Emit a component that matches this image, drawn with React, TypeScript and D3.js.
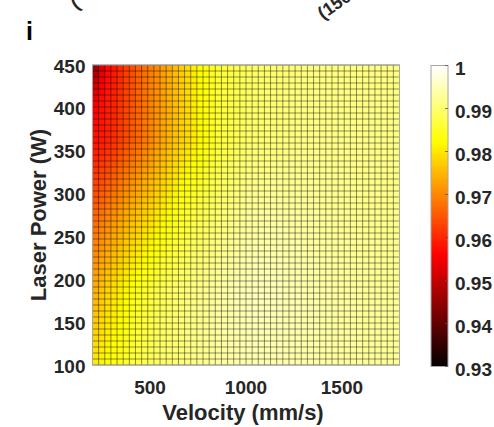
import React from 'react';
import * as d3 from 'd3';

// velocity (mm/s) at the left edge of each cell column
const VELOCITY = [
  200, 232, 264, 296, 328, 360, 392, 424, 456, 488, 520, 552, 584, 616, 648, 680, 712,
  744, 776, 808, 840, 872, 904, 936, 968, 1000, 1032, 1064, 1096, 1128, 1160, 1192, 1224,
  1256, 1288, 1320, 1352, 1384, 1416, 1448, 1480, 1512, 1544, 1576, 1608, 1640, 1672,
  1704, 1736, 1768,
];
// laser power (W) at the bottom edge of each cell row
const POWER = [
  100, 107, 114, 121, 128, 135, 142, 149, 156, 163, 170, 177, 184, 191, 198, 205, 212,
  219, 226, 233, 240, 247, 254, 261, 268, 275, 282, 289, 296, 303, 310, 317, 324, 331,
  338, 345, 352, 359, 366, 373, 380, 387, 394, 401, 408, 415, 422, 429, 436, 443,
];
const X_DOMAIN = [200, 1800];
const Y_DOMAIN = [100, 450];
const X_TICKS = [500, 1000, 1500];
const Y_TICKS = [100, 150, 200, 250, 300, 350, 400, 450];
const C_DOMAIN = [0.93, 1];
const C_TICKS = [0.93, 0.94, 0.95, 0.96, 0.97, 0.98, 0.99, 1];

// relative density (%), one row per POWER (bottom to top), one column per VELOCITY
const DENSITY = [
  [98.05,98.15,98.25,98.35,98.45,98.55,98.63,98.72,98.79,98.86,98.93,98.98,99.03,99.07,99.11,99.15,99.18,99.22,99.26,99.29,99.33,99.35,99.38,99.40,99.43,99.45,99.45,99.45,99.45,99.45,99.45,99.44,99.43,99.42,99.41,99.40,99.39,99.38,99.37,99.36,99.35,99.34,99.33,99.32,99.31,99.30,99.30,99.29,99.29,99.28],
  [98.00,98.11,98.21,98.32,98.42,98.52,98.60,98.70,98.77,98.84,98.92,98.97,99.02,99.06,99.10,99.15,99.18,99.22,99.26,99.29,99.33,99.35,99.38,99.41,99.44,99.46,99.46,99.46,99.45,99.45,99.45,99.44,99.43,99.42,99.41,99.40,99.39,99.38,99.37,99.36,99.35,99.34,99.33,99.32,99.31,99.30,99.30,99.29,99.29,99.28],
  [97.95,98.07,98.18,98.28,98.39,98.49,98.58,98.67,98.75,98.82,98.90,98.96,99.01,99.05,99.10,99.14,99.18,99.22,99.26,99.29,99.33,99.36,99.39,99.41,99.44,99.46,99.46,99.46,99.46,99.46,99.46,99.45,99.44,99.42,99.41,99.40,99.39,99.38,99.37,99.36,99.35,99.34,99.33,99.32,99.31,99.30,99.30,99.29,99.29,99.28],
  [97.90,98.02,98.14,98.25,98.36,98.46,98.55,98.64,98.72,98.81,98.88,98.94,99.00,99.05,99.09,99.14,99.17,99.21,99.26,99.29,99.34,99.36,99.39,99.42,99.44,99.47,99.47,99.47,99.47,99.46,99.46,99.45,99.44,99.43,99.42,99.40,99.39,99.38,99.37,99.36,99.35,99.34,99.33,99.32,99.31,99.30,99.30,99.29,99.29,99.28],
  [97.85,97.98,98.10,98.22,98.33,98.43,98.52,98.62,98.70,98.79,98.87,98.93,98.99,99.04,99.08,99.13,99.17,99.21,99.26,99.29,99.34,99.36,99.39,99.42,99.45,99.47,99.47,99.47,99.47,99.47,99.47,99.45,99.44,99.43,99.42,99.40,99.39,99.38,99.37,99.36,99.35,99.34,99.33,99.32,99.31,99.30,99.30,99.29,99.29,99.28],
  [97.80,97.94,98.06,98.18,98.30,98.40,98.50,98.60,98.68,98.77,98.86,98.92,98.98,99.03,99.08,99.13,99.17,99.21,99.26,99.29,99.34,99.37,99.40,99.43,99.45,99.48,99.48,99.48,99.48,99.47,99.47,99.46,99.44,99.43,99.42,99.40,99.39,99.38,99.37,99.36,99.35,99.34,99.33,99.32,99.31,99.30,99.30,99.29,99.29,99.28],
  [97.75,97.90,98.03,98.15,98.27,98.37,98.47,98.57,98.66,98.75,98.84,98.91,98.97,99.02,99.07,99.12,99.16,99.21,99.26,99.30,99.34,99.37,99.40,99.43,99.46,99.48,99.48,99.48,99.48,99.48,99.47,99.46,99.45,99.43,99.42,99.41,99.40,99.38,99.37,99.36,99.35,99.34,99.33,99.32,99.31,99.30,99.30,99.29,99.29,99.28],
  [97.70,97.86,97.99,98.12,98.23,98.35,98.44,98.55,98.64,98.73,98.83,98.89,98.95,99.01,99.06,99.12,99.16,99.21,99.25,99.30,99.34,99.37,99.40,99.44,99.46,99.49,99.49,99.49,99.49,99.48,99.48,99.46,99.45,99.44,99.42,99.41,99.40,99.38,99.37,99.36,99.35,99.34,99.33,99.32,99.31,99.30,99.30,99.29,99.29,99.28],
  [97.65,97.82,97.95,98.08,98.20,98.32,98.42,98.52,98.62,98.71,98.81,98.88,98.94,99.00,99.06,99.12,99.16,99.21,99.25,99.30,99.34,99.38,99.41,99.44,99.47,99.50,99.50,99.50,99.49,99.49,99.48,99.47,99.45,99.44,99.42,99.41,99.40,99.38,99.37,99.36,99.35,99.34,99.33,99.32,99.31,99.30,99.30,99.29,99.29,99.28],
  [97.60,97.77,97.91,98.05,98.17,98.29,98.39,98.50,98.59,98.70,98.80,98.87,98.93,99.00,99.05,99.11,99.16,99.20,99.25,99.30,99.35,99.38,99.41,99.45,99.48,99.50,99.50,99.50,99.50,99.50,99.49,99.47,99.45,99.44,99.43,99.41,99.40,99.38,99.37,99.36,99.35,99.34,99.33,99.32,99.31,99.30,99.30,99.29,99.29,99.28],
  [97.55,97.73,97.88,98.02,98.14,98.26,98.36,98.47,98.57,98.68,98.78,98.86,98.92,98.99,99.04,99.11,99.15,99.20,99.25,99.30,99.35,99.38,99.41,99.45,99.48,99.51,99.51,99.51,99.50,99.50,99.49,99.47,99.46,99.44,99.43,99.41,99.40,99.38,99.37,99.36,99.35,99.34,99.33,99.32,99.31,99.30,99.30,99.29,99.29,99.28],
  [97.50,97.69,97.84,97.98,98.11,98.23,98.34,98.45,98.55,98.66,98.77,98.84,98.91,98.98,99.04,99.10,99.15,99.20,99.25,99.30,99.35,99.39,99.42,99.46,99.48,99.51,99.51,99.51,99.51,99.50,99.50,99.48,99.46,99.45,99.43,99.41,99.40,99.38,99.37,99.36,99.35,99.34,99.33,99.32,99.31,99.30,99.30,99.29,99.29,99.28],
  [97.45,97.65,97.80,97.95,98.08,98.20,98.31,98.42,98.53,98.64,98.75,98.83,98.90,98.97,99.03,99.10,99.15,99.20,99.25,99.30,99.35,99.39,99.42,99.46,99.49,99.52,99.52,99.52,99.51,99.51,99.50,99.48,99.46,99.45,99.43,99.41,99.40,99.38,99.37,99.36,99.35,99.34,99.33,99.32,99.31,99.30,99.29,99.28,99.28,99.27],
  [97.39,97.58,97.73,97.88,98.01,98.13,98.25,98.36,98.47,98.58,98.69,98.77,98.85,98.92,98.99,99.06,99.11,99.17,99.22,99.27,99.32,99.36,99.40,99.44,99.47,99.50,99.50,99.50,99.50,99.50,99.49,99.47,99.45,99.44,99.42,99.40,99.39,99.37,99.36,99.35,99.34,99.33,99.32,99.31,99.30,99.29,99.28,99.27,99.27,99.26],
  [97.33,97.52,97.67,97.82,97.95,98.07,98.18,98.29,98.41,98.52,98.63,98.72,98.80,98.87,98.94,99.02,99.08,99.13,99.19,99.24,99.29,99.34,99.37,99.42,99.45,99.49,99.49,99.49,99.48,99.48,99.48,99.46,99.44,99.43,99.41,99.39,99.38,99.36,99.35,99.34,99.33,99.32,99.31,99.30,99.29,99.28,99.27,99.26,99.26,99.25],
  [97.27,97.45,97.60,97.75,97.88,98.00,98.12,98.23,98.35,98.46,98.57,98.66,98.74,98.82,98.90,98.98,99.04,99.10,99.15,99.21,99.26,99.31,99.35,99.40,99.43,99.47,99.47,99.47,99.47,99.47,99.47,99.45,99.43,99.42,99.40,99.38,99.37,99.36,99.35,99.34,99.33,99.32,99.31,99.30,99.29,99.28,99.27,99.26,99.26,99.25],
  [97.20,97.39,97.54,97.68,97.82,97.94,98.05,98.17,98.28,98.40,98.51,98.61,98.69,98.78,98.85,98.94,99.00,99.06,99.12,99.18,99.24,99.29,99.32,99.37,99.41,99.45,99.46,99.46,99.45,99.46,99.45,99.44,99.42,99.41,99.39,99.38,99.37,99.35,99.34,99.33,99.32,99.31,99.30,99.29,99.28,99.27,99.26,99.25,99.25,99.24],
  [97.14,97.32,97.47,97.62,97.75,97.87,97.99,98.10,98.22,98.34,98.45,98.55,98.64,98.73,98.81,98.90,98.97,99.03,99.09,99.15,99.21,99.26,99.30,99.35,99.39,99.44,99.44,99.44,99.44,99.44,99.44,99.43,99.41,99.40,99.38,99.37,99.36,99.34,99.33,99.32,99.31,99.30,99.29,99.28,99.27,99.26,99.25,99.24,99.24,99.23],
  [97.08,97.26,97.41,97.55,97.68,97.81,97.93,98.04,98.16,98.28,98.39,98.49,98.59,98.68,98.77,98.86,98.93,98.99,99.06,99.12,99.18,99.23,99.28,99.33,99.37,99.42,99.42,99.43,99.43,99.43,99.43,99.42,99.40,99.39,99.37,99.36,99.35,99.33,99.32,99.31,99.30,99.29,99.28,99.27,99.26,99.25,99.24,99.23,99.23,99.22],
  [97.02,97.19,97.34,97.48,97.62,97.74,97.86,97.98,98.10,98.21,98.34,98.44,98.53,98.63,98.72,98.82,98.89,98.96,99.02,99.08,99.15,99.21,99.25,99.31,99.36,99.40,99.41,99.41,99.41,99.42,99.42,99.40,99.39,99.38,99.37,99.35,99.34,99.33,99.32,99.31,99.30,99.29,99.28,99.27,99.26,99.25,99.25,99.24,99.24,99.23],
  [96.96,97.13,97.28,97.41,97.55,97.68,97.80,97.92,98.04,98.15,98.28,98.38,98.48,98.58,98.68,98.78,98.85,98.92,98.99,99.05,99.12,99.18,99.23,99.29,99.34,99.38,99.39,99.40,99.40,99.41,99.41,99.39,99.38,99.37,99.36,99.34,99.33,99.32,99.31,99.30,99.29,99.28,99.27,99.26,99.25,99.24,99.24,99.23,99.23,99.22],
  [96.90,97.06,97.21,97.35,97.48,97.61,97.74,97.85,97.98,98.09,98.22,98.32,98.43,98.53,98.64,98.74,98.82,98.89,98.96,99.02,99.09,99.15,99.21,99.27,99.32,99.37,99.37,99.38,99.39,99.39,99.40,99.38,99.37,99.36,99.35,99.33,99.32,99.31,99.30,99.29,99.28,99.27,99.26,99.25,99.24,99.23,99.23,99.22,99.22,99.21],
  [96.83,97.00,97.15,97.28,97.42,97.55,97.67,97.79,97.91,98.03,98.16,98.27,98.38,98.49,98.59,98.70,98.78,98.85,98.93,98.99,99.07,99.13,99.18,99.24,99.30,99.35,99.36,99.37,99.37,99.38,99.38,99.37,99.36,99.35,99.34,99.33,99.32,99.30,99.29,99.28,99.27,99.26,99.25,99.24,99.23,99.22,99.22,99.21,99.21,99.20],
  [96.77,96.93,97.08,97.21,97.35,97.48,97.61,97.73,97.85,97.97,98.10,98.21,98.32,98.44,98.55,98.66,98.74,98.82,98.89,98.96,99.04,99.10,99.16,99.22,99.28,99.33,99.34,99.35,99.36,99.37,99.37,99.36,99.35,99.34,99.33,99.32,99.31,99.30,99.29,99.28,99.27,99.26,99.25,99.24,99.23,99.22,99.22,99.21,99.21,99.20],
  [96.71,96.87,97.02,97.15,97.29,97.42,97.54,97.66,97.79,97.91,98.04,98.16,98.27,98.39,98.50,98.62,98.71,98.78,98.86,98.93,99.01,99.08,99.13,99.20,99.26,99.32,99.33,99.34,99.34,99.35,99.36,99.35,99.34,99.33,99.32,99.31,99.30,99.29,99.28,99.27,99.26,99.25,99.24,99.23,99.22,99.21,99.21,99.20,99.20,99.19],
  [96.65,96.80,96.95,97.08,97.22,97.35,97.48,97.60,97.73,97.85,97.98,98.10,98.22,98.34,98.46,98.58,98.67,98.75,98.83,98.90,98.98,99.05,99.11,99.18,99.24,99.30,99.31,99.32,99.33,99.34,99.35,99.34,99.33,99.32,99.31,99.30,99.29,99.28,99.27,99.26,99.25,99.24,99.23,99.22,99.21,99.20,99.20,99.19,99.19,99.18],
  [96.58,96.73,96.87,97.00,97.14,97.27,97.40,97.53,97.66,97.78,97.92,98.04,98.16,98.28,98.40,98.52,98.62,98.70,98.79,98.86,98.95,99.02,99.08,99.15,99.21,99.27,99.28,99.30,99.31,99.32,99.33,99.32,99.31,99.30,99.30,99.29,99.28,99.27,99.26,99.25,99.24,99.24,99.23,99.22,99.21,99.20,99.20,99.19,99.19,99.18],
  [96.51,96.65,96.79,96.92,97.06,97.19,97.33,97.45,97.59,97.71,97.85,97.98,98.10,98.22,98.35,98.47,98.57,98.66,98.75,98.83,98.92,98.99,99.05,99.12,99.18,99.25,99.26,99.27,99.28,99.30,99.31,99.30,99.30,99.29,99.28,99.28,99.27,99.26,99.26,99.25,99.24,99.23,99.22,99.21,99.20,99.20,99.19,99.19,99.18,99.18],
  [96.44,96.58,96.71,96.83,96.98,97.11,97.25,97.38,97.51,97.65,97.79,97.91,98.04,98.16,98.29,98.41,98.51,98.61,98.70,98.79,98.88,98.96,99.02,99.09,99.16,99.22,99.23,99.25,99.26,99.27,99.29,99.28,99.28,99.27,99.27,99.26,99.26,99.26,99.25,99.24,99.23,99.23,99.22,99.21,99.20,99.19,99.19,99.18,99.18,99.17],
  [96.37,96.50,96.63,96.75,96.90,97.03,97.17,97.30,97.44,97.58,97.72,97.85,97.98,98.10,98.23,98.35,98.46,98.57,98.66,98.76,98.85,98.93,98.99,99.06,99.13,99.19,99.21,99.22,99.24,99.25,99.27,99.26,99.26,99.26,99.26,99.25,99.25,99.25,99.24,99.23,99.23,99.22,99.21,99.21,99.20,99.19,99.19,99.18,99.18,99.17],
  [96.30,96.43,96.55,96.67,96.82,96.95,97.09,97.23,97.37,97.51,97.66,97.79,97.92,98.04,98.17,98.30,98.41,98.52,98.62,98.72,98.82,98.90,98.96,99.03,99.10,99.17,99.18,99.20,99.21,99.23,99.25,99.24,99.24,99.24,99.24,99.24,99.24,99.24,99.23,99.23,99.22,99.22,99.21,99.20,99.20,99.19,99.19,99.18,99.18,99.17],
  [96.23,96.35,96.47,96.59,96.74,96.87,97.02,97.15,97.30,97.44,97.59,97.73,97.86,97.98,98.12,98.24,98.36,98.48,98.58,98.69,98.79,98.87,98.93,99.00,99.07,99.14,99.16,99.17,99.19,99.21,99.23,99.22,99.23,99.23,99.23,99.23,99.23,99.23,99.23,99.22,99.22,99.21,99.20,99.20,99.20,99.19,99.19,99.18,99.18,99.17],
  [96.15,96.28,96.40,96.51,96.65,96.80,96.94,97.08,97.23,97.37,97.53,97.66,97.80,97.93,98.06,98.18,98.31,98.43,98.54,98.65,98.76,98.83,98.90,98.98,99.04,99.11,99.13,99.15,99.17,99.19,99.20,99.21,99.21,99.21,99.22,99.22,99.22,99.22,99.22,99.21,99.21,99.21,99.20,99.20,99.19,99.19,99.18,99.18,99.17,99.17],
  [96.08,96.20,96.32,96.43,96.57,96.72,96.86,97.00,97.16,97.30,97.46,97.60,97.74,97.87,98.00,98.13,98.26,98.38,98.50,98.61,98.73,98.80,98.87,98.95,99.01,99.09,99.10,99.13,99.14,99.17,99.18,99.19,99.19,99.19,99.20,99.21,99.21,99.21,99.21,99.21,99.20,99.20,99.20,99.19,99.19,99.19,99.18,99.18,99.17,99.17],
  [96.01,96.13,96.24,96.34,96.49,96.64,96.78,96.93,97.08,97.24,97.40,97.54,97.68,97.81,97.94,98.07,98.20,98.34,98.45,98.58,98.69,98.77,98.84,98.92,98.99,99.06,99.08,99.10,99.12,99.14,99.16,99.17,99.17,99.18,99.19,99.19,99.20,99.21,99.20,99.20,99.20,99.20,99.19,99.19,99.19,99.18,99.18,99.17,99.17,99.16],
  [95.94,96.05,96.16,96.26,96.41,96.56,96.71,96.85,97.01,97.17,97.33,97.48,97.62,97.75,97.89,98.01,98.15,98.29,98.41,98.54,98.66,98.74,98.81,98.89,98.96,99.03,99.05,99.08,99.10,99.12,99.14,99.15,99.16,99.16,99.18,99.18,99.19,99.20,99.20,99.19,99.19,99.19,99.19,99.19,99.18,99.18,99.17,99.17,99.16,99.16],
  [95.87,95.98,96.08,96.18,96.33,96.48,96.63,96.78,96.94,97.10,97.27,97.41,97.56,97.69,97.83,97.96,98.10,98.25,98.37,98.51,98.63,98.71,98.78,98.86,98.93,99.01,99.03,99.05,99.07,99.10,99.12,99.13,99.14,99.15,99.16,99.17,99.18,99.19,99.19,99.19,99.19,99.19,99.18,99.18,99.18,99.18,99.17,99.17,99.16,99.16],
  [95.80,95.90,96.00,96.10,96.25,96.40,96.55,96.70,96.87,97.03,97.20,97.35,97.50,97.63,97.77,97.90,98.05,98.20,98.33,98.47,98.60,98.68,98.75,98.83,98.90,98.98,99.00,99.03,99.05,99.08,99.10,99.11,99.12,99.13,99.15,99.16,99.17,99.18,99.18,99.18,99.18,99.18,99.18,99.18,99.18,99.18,99.17,99.17,99.16,99.16],
  [95.78,95.88,95.99,96.08,96.23,96.39,96.54,96.69,96.86,97.02,97.19,97.34,97.49,97.63,97.77,97.90,98.05,98.20,98.33,98.47,98.60,98.68,98.75,98.83,98.90,98.97,99.00,99.02,99.05,99.07,99.10,99.11,99.12,99.13,99.15,99.16,99.17,99.18,99.18,99.18,99.18,99.18,99.18,99.18,99.18,99.18,99.17,99.17,99.16,99.16],
  [95.75,95.86,95.97,96.06,96.22,96.38,96.53,96.68,96.85,97.01,97.18,97.33,97.48,97.62,97.76,97.90,98.06,98.21,98.34,98.47,98.60,98.68,98.74,98.82,98.89,98.97,98.99,99.02,99.04,99.07,99.09,99.10,99.11,99.12,99.14,99.15,99.16,99.17,99.17,99.17,99.18,99.18,99.18,99.18,99.18,99.18,99.17,99.17,99.16,99.16],
  [95.71,95.84,95.96,96.04,96.20,96.36,96.52,96.68,96.84,97.00,97.17,97.32,97.48,97.62,97.76,97.90,98.06,98.21,98.34,98.48,98.60,98.67,98.74,98.82,98.89,98.96,98.99,99.01,99.04,99.06,99.09,99.10,99.11,99.12,99.14,99.15,99.16,99.17,99.17,99.17,99.17,99.17,99.17,99.17,99.17,99.17,99.16,99.16,99.16,99.16],
  [95.67,95.82,95.95,96.02,96.18,96.35,96.51,96.67,96.83,96.99,97.16,97.31,97.47,97.61,97.76,97.90,98.06,98.22,98.34,98.48,98.60,98.67,98.74,98.82,98.88,98.96,98.98,99.01,99.03,99.06,99.08,99.09,99.10,99.11,99.13,99.14,99.15,99.16,99.16,99.16,99.17,99.17,99.17,99.17,99.17,99.17,99.16,99.16,99.15,99.15],
  [95.62,95.79,95.93,96.00,96.17,96.34,96.50,96.66,96.82,96.98,97.15,97.30,97.46,97.61,97.76,97.90,98.06,98.22,98.35,98.48,98.60,98.67,98.74,98.81,98.88,98.95,98.98,99.00,99.03,99.05,99.08,99.09,99.10,99.11,99.13,99.14,99.15,99.16,99.16,99.16,99.16,99.16,99.16,99.16,99.17,99.17,99.16,99.16,99.15,99.15],
  [95.55,95.76,95.91,95.98,96.15,96.33,96.49,96.65,96.82,96.98,97.14,97.30,97.45,97.60,97.76,97.90,98.07,98.23,98.35,98.48,98.60,98.67,98.74,98.81,98.87,98.95,98.97,99.00,99.02,99.05,99.07,99.08,99.09,99.10,99.12,99.13,99.14,99.15,99.15,99.15,99.16,99.16,99.16,99.16,99.16,99.16,99.16,99.16,99.15,99.15],
  [95.45,95.72,95.89,95.96,96.13,96.31,96.47,96.64,96.81,96.97,97.12,97.29,97.44,97.60,97.75,97.90,98.07,98.23,98.35,98.48,98.60,98.67,98.73,98.81,98.87,98.94,98.97,98.99,99.02,99.04,99.07,99.08,99.09,99.10,99.12,99.13,99.14,99.15,99.15,99.15,99.15,99.15,99.15,99.15,99.16,99.16,99.15,99.15,99.15,99.15],
  [95.33,95.67,95.86,95.94,96.12,96.30,96.46,96.63,96.80,96.96,97.11,97.28,97.43,97.59,97.75,97.90,98.07,98.23,98.36,98.48,98.60,98.67,98.73,98.80,98.87,98.93,98.96,98.98,99.01,99.03,99.06,99.07,99.08,99.09,99.11,99.12,99.13,99.14,99.14,99.14,99.15,99.15,99.15,99.15,99.15,99.15,99.15,99.15,99.15,99.15],
  [95.18,95.61,95.83,95.92,96.10,96.29,96.45,96.63,96.79,96.95,97.10,97.27,97.43,97.59,97.75,97.90,98.07,98.24,98.36,98.49,98.60,98.66,98.73,98.80,98.86,98.93,98.96,98.98,99.01,99.03,99.06,99.07,99.08,99.09,99.11,99.12,99.13,99.14,99.14,99.14,99.14,99.14,99.14,99.14,99.15,99.15,99.15,99.15,99.14,99.14],
  [95.00,95.52,95.79,95.90,96.08,96.28,96.44,96.62,96.78,96.94,97.09,97.26,97.42,97.58,97.75,97.90,98.08,98.24,98.36,98.49,98.60,98.66,98.72,98.80,98.86,98.92,98.95,98.97,99.00,99.02,99.05,99.06,99.07,99.08,99.10,99.11,99.12,99.13,99.13,99.13,99.14,99.14,99.14,99.14,99.15,99.15,99.14,99.14,99.14,99.14],
  [94.80,95.40,95.75,95.88,96.07,96.26,96.43,96.61,96.77,96.93,97.08,97.25,97.41,97.58,97.74,97.90,98.08,98.25,98.37,98.49,98.60,98.66,98.72,98.79,98.85,98.92,98.95,98.97,99.00,99.02,99.05,99.06,99.07,99.08,99.10,99.11,99.12,99.13,99.13,99.13,99.13,99.13,99.13,99.13,99.14,99.14,99.14,99.14,99.14,99.14],
  [94.58,95.25,95.70,95.85,96.05,96.25,96.42,96.60,96.76,96.92,97.07,97.24,97.40,97.57,97.74,97.90,98.08,98.25,98.37,98.49,98.60,98.66,98.72,98.79,98.85,98.91,98.94,98.96,98.99,99.01,99.04,99.05,99.06,99.07,99.09,99.10,99.11,99.12,99.12,99.12,99.13,99.13,99.13,99.13,99.14,99.14,99.14,99.14,99.14,99.14],
];

const W = 494;
const H = 427;
const PLOT = { left: 92.5, right: 399.5, top: 65, bottom: 365 };
const CBAR = { left: 431, right: 448, top: 65.5, bottom: 366.5 };
const FONT = "'Liberation Sans', Arial, Helvetica, sans-serif";
const INK = '#262626';
const TICK_SIZE = 19;
const LABEL_SIZE = 22;

// MATLAB "hot" colormap: black -> red -> yellow -> white
function hot(t: number) {
  const k = Math.max(0, Math.min(1, t));
  const r = Math.min(1, k / 0.375);
  const g = Math.max(0, Math.min(1, (k - 0.375) / 0.375));
  const b = Math.max(0, (k - 0.75) / 0.25);
  return d3.rgb(r * 255, g * 255, b * 255).formatHex();
}

export default function App() {
  const x = d3.scaleLinear().domain(X_DOMAIN).range([PLOT.left, PLOT.right]);
  const y = d3.scaleLinear().domain(Y_DOMAIN).range([PLOT.bottom, PLOT.top]);
  const cy = d3.scaleLinear().domain(C_DOMAIN).range([CBAR.bottom, CBAR.top]);
  const level = d3.scaleLinear().domain(C_DOMAIN).range([0, 1]).clamp(true);
  const color = (pct: number) => hot(level(pct / 100));

  const vEdges = [...VELOCITY, X_DOMAIN[1]];
  const pEdges = [...POWER, Y_DOMAIN[1]];

  const nSteps = 128;
  const stepH = (C_DOMAIN[1] - C_DOMAIN[0]) / nSteps;
  const stepVals = d3.range(nSteps).map((i) => C_DOMAIN[0] + i * stepH);

  return (
    <svg
      width={W}
      height={H}
      style={{ position: 'absolute', left: 0, top: 0, background: '#fff' }}
      fontFamily={FONT}
      fontWeight="bold"
    >
      {/* cut-off tick labels of the panel above */}
      <text transform="translate(76,10) rotate(-35)" fontSize={18} fill={INK}>(</text>
      <text transform="translate(323,20) rotate(-35)" fontSize={18} fill={INK}>(150</text>

      <text x={26} y={40} fontSize={25} fill="#000">i</text>

      {/* cells */}
      <g shapeRendering="crispEdges">
        {DENSITY.map((row, i) =>
          row.map((d, j) => (
            <rect
              key={`${i}-${j}`}
              x={x(vEdges[j])}
              y={y(pEdges[i + 1])}
              width={x(vEdges[j + 1]) - x(vEdges[j]) + 0.4}
              height={y(pEdges[i]) - y(pEdges[i + 1]) + 0.4}
              fill={color(d)}
            />
          ))
        )}
      </g>

      {/* cell edges */}
      <g stroke="#000" strokeOpacity={0.55} strokeWidth={0.8}>
        {vEdges.map((v) => (
          <line key={`v${v}`} x1={x(v)} x2={x(v)} y1={PLOT.top} y2={PLOT.bottom} />
        ))}
        {pEdges.map((p) => (
          <line key={`p${p}`} x1={PLOT.left} x2={PLOT.right} y1={y(p)} y2={y(p)} />
        ))}
      </g>
      <rect
        x={PLOT.left}
        y={PLOT.top}
        width={PLOT.right - PLOT.left}
        height={PLOT.bottom - PLOT.top}
        fill="none"
        stroke="#a6a6a6"
        strokeWidth={1}
      />

      {/* axes labels */}
      {Y_TICKS.map((t) => (
        <text key={`yt${t}`} x={PLOT.left - 7} y={y(t) + 7.5} textAnchor="end" fontSize={TICK_SIZE} fill={INK}>
          {t}
        </text>
      ))}
      {X_TICKS.map((t) => (
        <text key={`xt${t}`} x={x(t)} y={394} textAnchor="middle" fontSize={TICK_SIZE} fill={INK}>
          {t}
        </text>
      ))}
      <text x={243} y={420} textAnchor="middle" fontSize={LABEL_SIZE} fill={INK}>
        Velocity (mm/s)
      </text>
      <text transform="translate(45.5,215) rotate(-90)" textAnchor="middle" fontSize={LABEL_SIZE} fill={INK}>
        Laser Power (W)
      </text>

      {/* colorbar */}
      <g shapeRendering="crispEdges">
        {stepVals.map((v, i) => (
          <rect
            key={`cb${i}`}
            x={CBAR.left}
            y={cy(v + stepH)}
            width={CBAR.right - CBAR.left}
            height={cy(v) - cy(v + stepH) + 0.5}
            fill={hot((i + 0.5) / nSteps)}
          />
        ))}
      </g>
      <rect
        x={CBAR.left}
        y={CBAR.top}
        width={CBAR.right - CBAR.left}
        height={CBAR.bottom - CBAR.top}
        fill="none"
        stroke="#a6a6a6"
        strokeWidth={1}
      />
      {C_TICKS.map((t) => (
        <g key={`ct${t}`}>
          <line x1={CBAR.right - 3} x2={CBAR.right} y1={cy(t)} y2={cy(t)} stroke="#555" strokeWidth={0.8} />
          <text x={CBAR.right + 7} y={cy(t) + 9} fontSize={TICK_SIZE} fill={INK}>
            {t}
          </text>
        </g>
      ))}
    </svg>
  );
}
